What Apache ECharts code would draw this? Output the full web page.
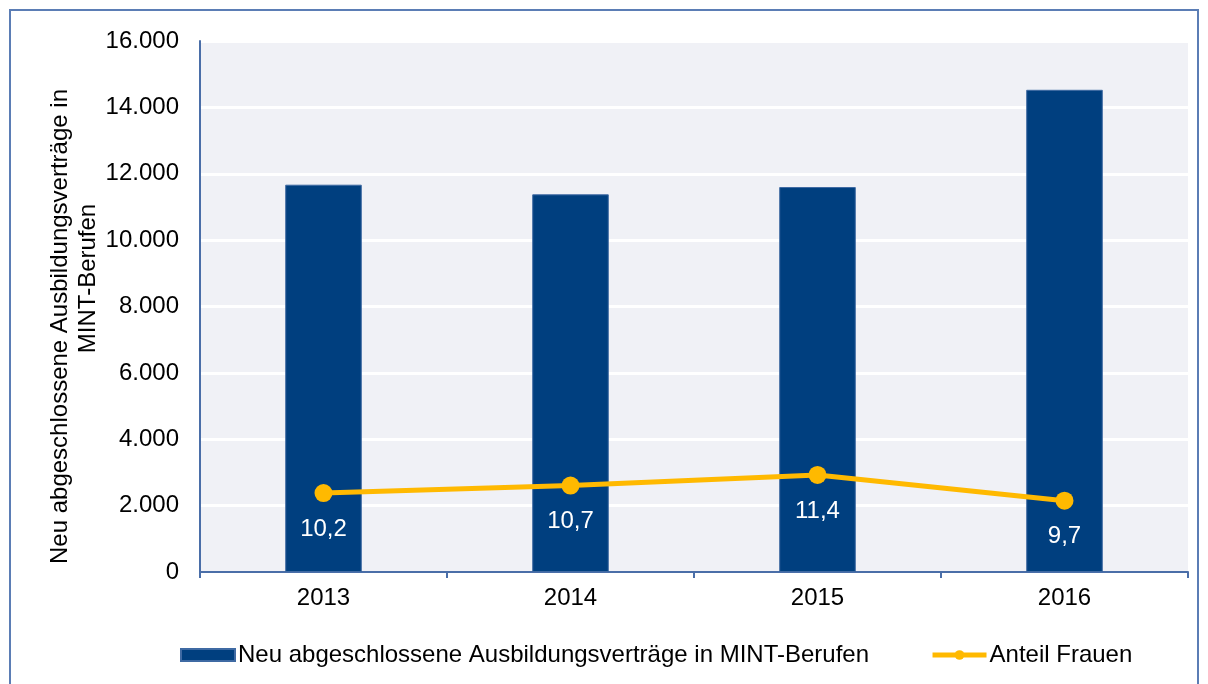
<!DOCTYPE html>
<html>
<head>
<meta charset="utf-8">
<script src="https://cdn.jsdelivr.net/npm/echarts@6/dist/echarts.min.js"></script>
<style>
html,body{margin:0;padding:0;background:#fff;}
#chart{width:1208px;height:684px;}
</style>
</head>
<body>
<div id="chart"></div>
<script>
const categories = ['2013', '2014', '2015', '2016'];
const contracts = [11670, 11380, 11600, 14530];
const womenShare = [10.2, 10.7, 11.4, 9.7];
const seriesNames = ['Neu abgeschlossene Ausbildungsverträge in MINT-Berufen', 'Anteil Frauen'];
const yAxisTitle = ['Neu abgeschlossene Ausbildungsverträge in', 'MINT-Berufen'];

const FONT = 'Liberation Sans, Arial, sans-serif';
const chart = echarts.init(document.getElementById('chart'), null, {renderer: 'canvas'});
chart.setOption({
  animation: false,
  textStyle: {fontFamily: FONT},
  graphic: [{
    type: 'rect',
    shape: {x: 10, y: 10, width: 1188, height: 700},
    style: {fill: 'none', stroke: '#5b7db5', lineWidth: 2},
    silent: true, z: -1
  }],
  grid: {
    left: 200, right: 20, top: 41, bottom: 112,
    show: true, backgroundColor: '#f0f1f6', borderWidth: 0
  },
  legend: {
    left: 180, top: 643, padding: 0,
    itemWidth: 54, itemHeight: 12, itemGap: 61,
    textStyle: {fontSize: 24, color: '#000', fontFamily: FONT, padding: [0, 0, 0, -2]},
    data: [
      {name: seriesNames[0], icon: 'rect'},
      {name: seriesNames[1], lineStyle: {width: 5, color: '#ffb900'}, itemStyle: {color: '#ffb900'}}
    ]
  },
  xAxis: {
    type: 'category',
    data: categories,
    axisLine: {lineStyle: {color: '#4a6ea8', width: 2}},
    axisTick: {show: true, length: 6, lineStyle: {color: '#4a6ea8', width: 2}},
    axisLabel: {fontSize: 24, color: '#000', margin: 14, fontFamily: FONT},
    splitLine: {show: false}
  },
  yAxis: [{
    type: 'value',
    min: 0, max: 16000, interval: 2000,
    axisLine: {show: true, lineStyle: {color: '#4a6ea8', width: 2}},
    axisTick: {show: false},
    axisLabel: {
      fontSize: 24, color: '#000', margin: 21, fontFamily: FONT,
      formatter: v => v === 0 ? '0' : v.toLocaleString('de-DE').replace(/,/g, '.')
    },
    splitLine: {lineStyle: {color: '#ffffff', width: 3}},
    name: '{a|' + yAxisTitle[0] + '}\n{b|' + yAxisTitle[1] + '}',
    nameLocation: 'middle',
    nameGap: 98,
    nameMoveOverlap: false,
    nameRotate: 90,
    nameTextStyle: {
      fontSize: 24, color: '#000', fontFamily: FONT, lineHeight: 28,
      padding: [0, 40, 0, 0],
      rich: {
        a: {fontSize: 24, color: '#000', fontFamily: FONT, lineHeight: 28},
        b: {fontSize: 24, color: '#000', fontFamily: FONT, lineHeight: 28, padding: [0, 0, 0, 96]}
      }
    }
  }, {
    type: 'value',
    min: 5, max: 40,
    show: false,
    splitLine: {show: false}
  }],
  series: [{
    name: seriesNames[0],
    type: 'bar',
    data: contracts,
    barWidth: '31%',
    itemStyle: {color: '#003f7f', borderColor: '#3f6aa3', borderWidth: 1},
    z: 2
  }, {
    name: seriesNames[1],
    type: 'line',
    yAxisIndex: 1,
    data: womenShare,
    symbol: 'circle',
    symbolSize: 18,
    lineStyle: {color: '#ffb900', width: 5},
    itemStyle: {color: '#ffb900'},
    label: {
      show: true, position: 'bottom', distance: 15,
      color: '#ffffff', fontSize: 24, fontFamily: FONT,
      formatter: p => String(p.value).replace('.', ',')
    },
    z: 3
  }]
});
</script>
</body>
</html>
